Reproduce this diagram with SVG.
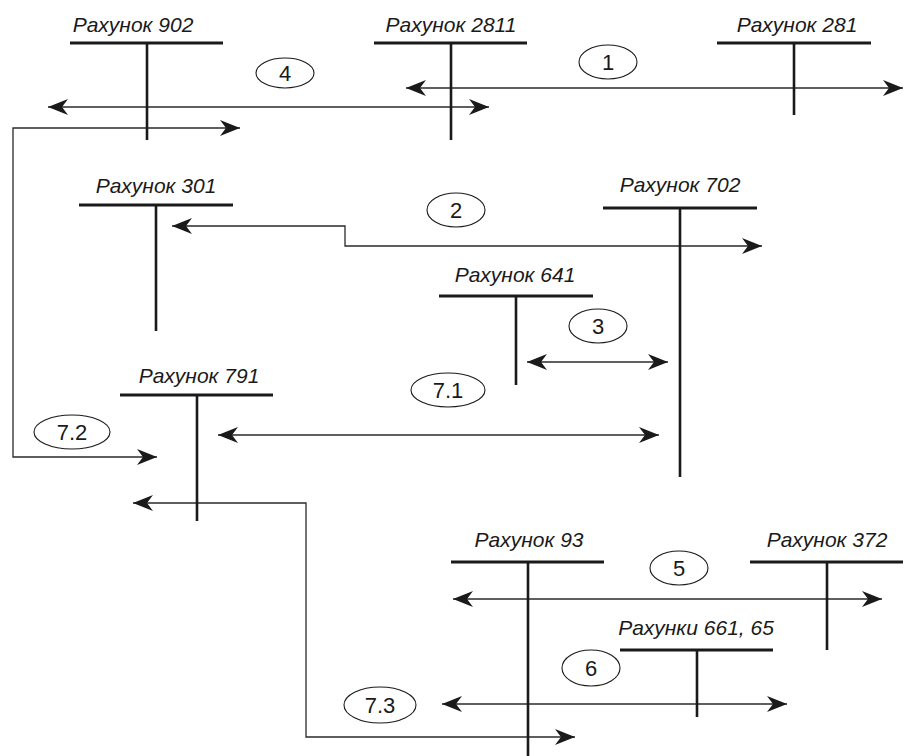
<svg xmlns="http://www.w3.org/2000/svg" width="907" height="756" viewBox="0 0 907 756">
  <defs>
    <marker id="ah" viewBox="0 0 20 16" refX="20" refY="8" markerWidth="20" markerHeight="16" markerUnits="userSpaceOnUse" orient="auto-start-reverse">
      <path d="M0,0 L20,8 L0,16 L6,8 Z" fill="#1a1a1a"/>
    </marker>
    <style>
      .bar { stroke: #1a1a1a; stroke-width: 3; fill: none; }
      .stem { stroke: #1a1a1a; stroke-width: 2.6; fill: none; }
      .name { font-family: "Liberation Sans", Arial, sans-serif; font-style: italic; font-size: 21px; fill: #1a1a1a; text-anchor: middle; }
      .conn { stroke: #2a2a2a; stroke-width: 1.3; fill: none; marker-start: url(#ah); marker-end: url(#ah); }
      .oval { stroke: #1a1a1a; stroke-width: 1.1; fill: none; }
      .num { font-family: "Liberation Sans", Arial, sans-serif; font-size: 22px; fill: #1a1a1a; text-anchor: middle; }
    </style>
  </defs>
  <rect width="907" height="756" fill="#ffffff"/>

  <g id="connectors">
    <line class="conn" x1="406" y1="88" x2="903" y2="88"/>
    <line class="conn" x1="48" y1="107" x2="489" y2="107"/>
    <path class="conn" d="M240,128 H13 V457 H157"/>
    <path class="conn" d="M172,226 H345 V246 H762"/>
    <line class="conn" x1="527" y1="362" x2="668" y2="362"/>
    <line class="conn" x1="218" y1="435" x2="659" y2="435"/>
    <path class="conn" d="M133,503 H306 V737 H575"/>
    <line class="conn" x1="453" y1="599" x2="882" y2="599"/>
    <line class="conn" x1="442" y1="704" x2="787" y2="704"/>
  </g>

  <g id="acc902">
    <text class="name" x="133" y="32">Рахунок 902</text>
    <line class="bar" x1="70" y1="43" x2="223" y2="43"/>
    <line class="stem" x1="147" y1="43" x2="147" y2="140"/>
  </g>
  <g id="acc2811">
    <text class="name" x="451" y="32">Рахунок 2811</text>
    <line class="bar" x1="374" y1="43" x2="527" y2="43"/>
    <line class="stem" x1="451" y1="43" x2="451" y2="140"/>
  </g>
  <g id="acc281">
    <text class="name" x="797" y="32">Рахунок 281</text>
    <line class="bar" x1="717" y1="43" x2="871" y2="43"/>
    <line class="stem" x1="794" y1="43" x2="794" y2="115"/>
  </g>
  <g id="acc301">
    <text class="name" x="156" y="193">Рахунок 301</text>
    <line class="bar" x1="79" y1="205" x2="233" y2="205"/>
    <line class="stem" x1="156" y1="205" x2="156" y2="331"/>
  </g>
  <g id="acc702">
    <text class="name" x="680" y="192">Рахунок 702</text>
    <line class="bar" x1="603" y1="208" x2="757" y2="208"/>
    <line class="stem" x1="680" y1="208" x2="680" y2="477"/>
  </g>
  <g id="acc641">
    <text class="name" x="515" y="282">Рахунок 641</text>
    <line class="bar" x1="439" y1="296" x2="593" y2="296"/>
    <line class="stem" x1="516" y1="296" x2="516" y2="385"/>
  </g>
  <g id="acc791">
    <text class="name" x="199" y="383">Рахунок 791</text>
    <line class="bar" x1="120" y1="395" x2="273" y2="395"/>
    <line class="stem" x1="197" y1="395" x2="197" y2="521"/>
  </g>
  <g id="acc93">
    <text class="name" x="529" y="547">Рахунок 93</text>
    <line class="bar" x1="451" y1="562" x2="604" y2="562"/>
    <line class="stem" x1="528" y1="562" x2="528" y2="756"/>
  </g>
  <g id="acc372">
    <text class="name" x="827" y="547">Рахунок 372</text>
    <line class="bar" x1="750" y1="562" x2="903" y2="562"/>
    <line class="stem" x1="827" y1="562" x2="827" y2="650"/>
  </g>
  <g id="acc661">
    <text class="name" x="696" y="635">Рахунки 661, 65</text>
    <line class="bar" x1="620" y1="650" x2="773" y2="650"/>
    <line class="stem" x1="697" y1="650" x2="697" y2="717"/>
  </g>

  <g id="label1"><ellipse class="oval" cx="608" cy="62" rx="29" ry="17"/><text class="num" x="608" y="70">1</text></g>
  <g id="label2"><ellipse class="oval" cx="456" cy="210" rx="29" ry="17"/><text class="num" x="456" y="218">2</text></g>
  <g id="label3"><ellipse class="oval" cx="598" cy="326" rx="29" ry="17"/><text class="num" x="598" y="334">3</text></g>
  <g id="label4"><ellipse class="oval" cx="285" cy="73" rx="29" ry="15"/><text class="num" x="285" y="81">4</text></g>
  <g id="label5"><ellipse class="oval" cx="679" cy="568" rx="29" ry="17"/><text class="num" x="679" y="576">5</text></g>
  <g id="label6"><ellipse class="oval" cx="591" cy="668" rx="29" ry="18"/><text class="num" x="591" y="676">6</text></g>
  <g id="label71"><ellipse class="oval" cx="448" cy="390" rx="37" ry="17"/><text class="num" x="448" y="398">7.1</text></g>
  <g id="label72"><ellipse class="oval" cx="72" cy="432" rx="38" ry="17"/><text class="num" x="72" y="440">7.2</text></g>
  <g id="label73"><ellipse class="oval" cx="380" cy="705" rx="36" ry="18"/><text class="num" x="380" y="713">7.3</text></g>
</svg>
